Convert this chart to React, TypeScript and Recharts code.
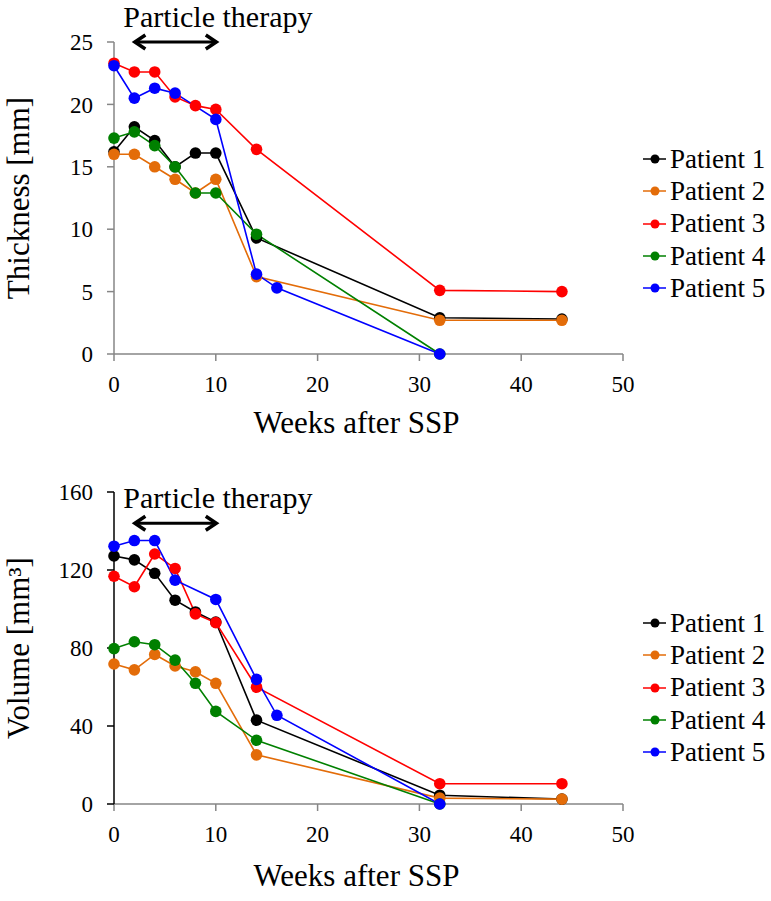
import { Legend, Line, LineChart, ReferenceLine, XAxis, YAxis } from 'recharts'

const FONT = '"Liberation Serif", "Times New Roman", serif'

const PATIENTS = ['Patient 1', 'Patient 2', 'Patient 3', 'Patient 4', 'Patient 5']
const COLORS = ['#000000', '#E36C09', '#FF0000', '#008000', '#0000FF']

// weeks after SSP at which each patient was measured
const WEEKS = [0, 2, 4, 6, 8, 10, 14, 32, 44]
const WEEKS_P4 = [0, 2, 4, 6, 8, 10, 14, 32]
const WEEKS_P5 = [0, 2, 4, 6, 10, 14, 16, 32]

const THICK_P1 = [16.2, 18.2, 17.1, 15.0, 16.1, 16.1, 9.3, 2.9, 2.8]
const THICK_P2 = [16.0, 16.0, 15.0, 14.0, 12.9, 14.0, 6.2, 2.7, 2.7]
const THICK_P3 = [23.3, 22.6, 22.6, 20.6, 19.9, 19.6, 16.4, 5.1, 5.0]
const THICK_P4 = [17.3, 17.8, 16.7, 15.0, 12.9, 12.9, 9.6, 0]
const THICK_P5 = [23.1, 20.5, 21.3, 20.9, 18.8, 6.4, 5.3, 0]

const VOL_P1 = [127.2, 125.2, 118.3, 104.5, 98.5, 93.3, 43, 4.5, 2.5]
const VOL_P2 = [71.8, 68.8, 76.7, 70.8, 67.8, 61.9, 25.2, 3, 2.5]
const VOL_P3 = [116.8, 111.4, 128.2, 120.8, 97.5, 93, 59.9, 10.4, 10.4]
const VOL_P4 = [79.7, 83.2, 81.7, 73.8, 61.9, 47.5, 32.7, 0]
const VOL_P5 = [132.2, 135.1, 135.1, 114.8, 104.9, 63.9, 45.5, 0]

const X_TICKS = [0, 10, 20, 30, 40, 50]
const THICK_TICKS = [0, 5, 10, 15, 20, 25]
const VOL_TICKS = [0, 40, 80, 120, 160]

// particle therapy window (weeks)
const THERAPY = [2, 10]

const toPoints = (weeks: number[], values: number[]) =>
  weeks.map((w, i) => ({ w, v: values[i] }))

const thicknessSeries = [
  toPoints(WEEKS, THICK_P1),
  toPoints(WEEKS, THICK_P2),
  toPoints(WEEKS, THICK_P3),
  toPoints(WEEKS_P4, THICK_P4),
  toPoints(WEEKS_P5, THICK_P5),
]

const volumeSeries = [
  toPoints(WEEKS, VOL_P1),
  toPoints(WEEKS, VOL_P2),
  toPoints(WEEKS, VOL_P3),
  toPoints(WEEKS_P4, VOL_P4),
  toPoints(WEEKS_P5, VOL_P5),
]

function TherapyArrow(props: any) {
  const { x1, y1, x2 } = props
  const a = x1 - 1
  const b = x2 + 2
  return (
    <g>
      <text x={x1 - 11} y={y1 - 15} fontFamily={FONT} fontSize={30} fill="#000">
        Particle therapy
      </text>
      <line x1={a + 2} y1={y1} x2={b - 2} y2={y1} stroke="#000" strokeWidth={3} />
      <polyline
        points={`${a + 12},${y1 - 7} ${a + 1.5},${y1} ${a + 12},${y1 + 7}`}
        fill="none"
        stroke="#000"
        strokeWidth={3.5}
      />
      <polyline
        points={`${b - 12},${y1 - 7} ${b - 1.5},${y1} ${b - 12},${y1 + 7}`}
        fill="none"
        stroke="#000"
        strokeWidth={3.5}
      />
    </g>
  )
}

function renderLegend(props: any) {
  const { payload } = props
  return (
    <div>
      {payload.map((entry: any) => (
        <div
          key={entry.value}
          style={{ display: 'flex', alignItems: 'center', height: 32.3 }}
        >
          <svg width={27} height={12} style={{ marginRight: 2 }}>
            <line x1={2} y1={6} x2={25} y2={6} stroke={entry.color} strokeWidth={1.5} />
            <circle cx={14} cy={6} r={4.5} fill={entry.color} />
          </svg>
          <span style={{ fontFamily: FONT, fontSize: 27, color: '#000', lineHeight: 1 }}>
            {entry.value}
          </span>
        </div>
      ))}
    </div>
  )
}

interface PanelProps {
  series: { w: number; v: number }[][]
  yMax: number
  yTicks: number[]
  yLabel: string
  yAxisColor: string
  arrowY: number
  top: number
  marginTop: number
  height: number
  legendTop: number
  xLabelOffset: number
}

function Panel({
  series,
  yMax,
  yTicks,
  yLabel,
  yAxisColor,
  arrowY,
  top,
  marginTop,
  height,
  legendTop,
  xLabelOffset,
}: PanelProps) {
  return (
    <div style={{ position: 'absolute', left: 0, top }}>
      <LineChart
        width={771}
        height={height}
        margin={{ top: marginTop, right: 148, left: 0, bottom: 0 }}
      >
        <XAxis
          type="number"
          dataKey="w"
          domain={[0, 50]}
          ticks={X_TICKS}
          height={96}
          stroke="#868686"
          strokeWidth={1.5}
          tickSize={7}
          tickMargin={15}
          tick={{ fill: '#000', fontFamily: FONT, fontSize: 23 }}
          label={{
            value: 'Weeks after SSP',
            position: 'insideBottom',
            offset: xLabelOffset,
            dx: -12,
            fill: '#000',
            fontFamily: FONT,
            fontSize: 31,
          }}
        />
        <YAxis
          type="number"
          dataKey="v"
          domain={[0, yMax]}
          ticks={yTicks}
          width={114}
          stroke={yAxisColor}
          strokeWidth={1.5}
          tickSize={7}
          tickMargin={14}
          tick={{ fill: '#000', fontFamily: FONT, fontSize: 23 }}
          label={{
            value: yLabel,
            angle: -90,
            position: 'insideLeft',
            offset: 18,
            fill: '#000',
            fontFamily: FONT,
            fontSize: 31,
            style: { textAnchor: 'middle' },
          }}
        />
        <ReferenceLine
          segment={[
            { x: THERAPY[0], y: arrowY },
            { x: THERAPY[1], y: arrowY },
          ]}
          shape={TherapyArrow}
        />
        {series.map((data, i) => (
          <Line
            key={PATIENTS[i]}
            data={data}
            dataKey="v"
            name={PATIENTS[i]}
            stroke={COLORS[i]}
            strokeWidth={1.6}
            dot={{ r: 5.8, fill: COLORS[i], stroke: COLORS[i], strokeWidth: 0 }}
            isAnimationActive={false}
          />
        ))}
        <Legend
          layout="vertical"
          align="center"
          verticalAlign="middle"
          content={renderLegend}
          wrapperStyle={{ left: 641, top: legendTop, width: 130 }}
        />
      </LineChart>
    </div>
  )
}

export default function App() {
  return (
    <div style={{ position: 'absolute', left: 0, top: 0, width: 771, height: 901, background: '#fff' }}>
      <Panel
        series={thicknessSeries}
        yMax={25}
        yTicks={THICK_TICKS}
        yLabel="Thickness [mm]"
        yAxisColor="#868686"
        arrowY={25}
        top={0}
        marginTop={42}
        height={450}
        legendTop={143}
        xLabelOffset={17}
      />
      <Panel
        series={volumeSeries}
        yMax={160}
        yTicks={VOL_TICKS}
        yLabel="Volume [mm³]"
        yAxisColor="#000000"
        arrowY={144}
        top={450}
        marginTop={42}
        height={450}
        legendTop={157}
        xLabelOffset={14}
      />
    </div>
  )
}
